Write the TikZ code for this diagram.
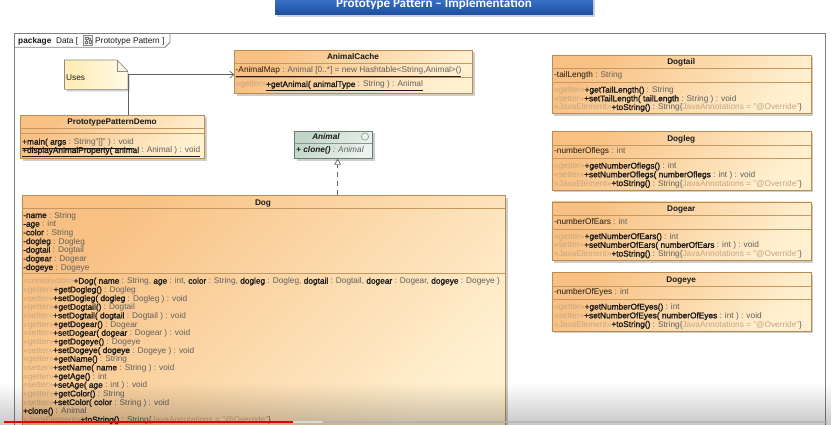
\documentclass[tikz,border=0pt]{standalone}
\usepackage{fontspec}
\setmainfont{Liberation Sans}
\newfontface\fbold{Liberation Sans}[FakeBold=1.6]
\newfontfamily\bannerfont{Carlito}
\usetikzlibrary{arrows.meta,fadings}
\definecolor{clsL}{RGB}{248,192,130}
\definecolor{clsR}{RGB}{255,240,208}
\definecolor{bdc}{RGB}{186,140,82}
\definecolor{divc}{RGB}{196,152,98}
\definecolor{stc}{RGB}{200,165,130}
\definecolor{tyc}{RGB}{95,95,95}
\definecolor{nmc}{RGB}{25,25,25}
\definecolor{shc}{RGB}{205,205,205}
\definecolor{frc}{RGB}{128,128,128}
\definecolor{anL}{RGB}{192,212,199}
\definecolor{anR}{RGB}{236,243,239}
\definecolor{anB}{RGB}{105,125,112}
\definecolor{noteL}{RGB}{255,236,176}
\definecolor{noteR}{RGB}{255,250,230}
\definecolor{bnT}{RGB}{72,134,224}
\definecolor{bnB}{RGB}{28,78,160}
\definecolor{ytred}{RGB}{232,0,0}
\tikzfading[name=fadeup, top color=transparent!100, bottom color=transparent!0]
\newcommand\St[1]{\textcolor{stc}{«#1»}}
\newcommand\Ty[1]{\textcolor{tyc}{#1}}
\newcommand\Nm[1]{{\fbold #1}}
\tikzset{
  cls/.style={draw=bdc, line width=0.7pt, inner sep=0, top color=clsL, bottom color=clsR, shading angle=45},
  divl/.style={draw=divc, line width=0.6pt},
  txt/.style={inner sep=0, anchor=base west, font=\fontsize{8.3}{9}\selectfont, text=nmc},
  ttl/.style={inner sep=0, anchor=base, font=\fontsize{8.2}{9}\selectfont\bfseries, text=nmc},
  conn/.style={draw=black!62, line width=0.7pt},
}
\newcommand\rbox[6]{%
  \fill[shc] (554.2,{#2+2.5}) rectangle (813.2,{#2+61});
  \node[cls, anchor=north west, minimum width=259, minimum height=58.5] (#1) at (551.7,#2) {};
  \node[ttl] (#1-t) at (681.2,{#2+10}) {#3};
  \draw[divl] (551.7,{#2+13.8}) -- (810.7,{#2+13.8});
  \node[txt] (#1-a) at (554,{#2+22.9}) {#4};
  \draw[divl] (551.7,{#2+27.3}) -- (810.7,{#2+27.3});
  \node[txt] (#1-m1) at (554,{#2+37.6}) {#5};
  \node[txt] (#1-m2) at (554,{#2+46.3}) {#6};
  \node[txt] (#1-m3) at (554,{#2+55}) {\St{JavaElement}\Nm{+toString()} \Ty{: String\{}\textcolor{stc}{JavaAnnotations = "@Override"}\Ty{\}}};
}
\begin{document}
\begin{tikzpicture}[x=1pt,y=-1pt]
\useasboundingbox (0,0) rectangle (832,425);
\clip (0,0) rectangle (832,425);
\fill[white] (0,0) rectangle (832,425);

% title banner
\fill[black!35, opacity=0.5] (277,-5) rectangle (595,17.3);
\node[inner sep=0, minimum width=318, minimum height=25, anchor=south west, top color=bnT, bottom color=bnB] (banner) at (275,15) {};
\node[inner sep=0, anchor=base, text=white, font=\bannerfont\bfseries\fontsize{13}{15}\selectfont] (bannertext) at (434,7.5) {Prototype Pattern – Implementation};

% package frame
\draw[frc, line width=0.9pt] (14,440) -- (14,33.3) -- (825,33.3) -- (825,440);
\draw[frc, line width=0.8pt] (14,47.3) -- (165,47.3) -- (170,42.3) -- (170,33.3);
\node[txt] (pkgA) at (18,43.2) {\textbf{package}\ \ Data [};
\draw[fill=black!8, draw=black!45, line width=0.5pt] (83.5,35.5) rectangle (92.5,45);
\draw[black!55, line width=0.4pt] (85,37) rectangle (88,39.3) (89,40.6) rectangle (91.3,43.3) (85.3,41) rectangle (87.6,43.5) (86.5,39.3) -- (86.5,41) (88,38) -- (90,38) -- (90,40.6);
\node[txt] (pkgB) at (95,43.2) {Prototype Pattern ]};

% Uses note
\fill[shc] (66.5,62) -- (117,62) -- (129.5,74) -- (129.5,91.5) -- (66.5,91.5) -- cycle;
\node[inner sep=0, minimum width=63, minimum height=29, anchor=north west] (uses) at (64.5,60) {};
\draw[draw=black!45, line width=0.6pt, left color=noteL, right color=noteR] (uses.north west) -- ([xshift=-11pt]uses.north east) -- ([yshift=-11pt]uses.north east) -- (uses.south east) -- (uses.south west) -- cycle;
\draw[black!45, line width=0.6pt] ([xshift=-11pt]uses.north east) -- ([xshift=-11pt,yshift=-11pt]uses.north east) -- ([yshift=-11pt]uses.north east);
\node[txt] (usestext) at (66,80.3) {Uses};

% AnimalCache
\fill[shc] (236.8,52.5) rectangle (474.5,95.8);
\node[cls, anchor=north west, minimum width=237.7, minimum height=43.3] (cache) at (234.3,50) {};
\node[ttl] (cache-t) at (353,59.8) {AnimalCache};
\draw[divl] (234.3,63.5) -- (472,63.5);
\node[txt] (cache-a) at (235.5,73) {\textcolor{black!80!brown}{\underline{-AnimalMap \Ty{: Animal [0..*] = new Hashtable<String,Animal>()}}}};
\draw[divl] (234.3,77.3) -- (472,77.3);
\node[txt] (cache-m) at (235.5,87) {\St{getter}\underline{\Nm{+getAnimal(} \Nm{animalType} \Ty{: String ) : Animal}}};

% PrototypePatternDemo
\fill[shc] (22.5,117.5) rectangle (206.5,160.8);
\node[cls, anchor=north west, minimum width=184, minimum height=43.3] (demo) at (20,115) {};
\node[ttl] (demo-t) at (112,124.8) {PrototypePatternDemo};
\draw[divl] (20,128.3) -- (204,128.3);
\draw[divl] (20,133.8) -- (204,133.8);
\node[txt] (demo-m1) at (22,144.6) {\underline{\Nm{+main(} \Nm{args} \Ty{: String"[]" ) : void}}};
\node[txt] (demo-m2) at (22,153) {\underline{\Nm{+displayAnimalProperty(} \Nm{animal} \Ty{: Animal ) : void}}};

% Animal
\fill[shc] (296.5,133.5) rectangle (374.5,160.5);
\node[draw=anB, line width=0.7pt, inner sep=0, top color=anL, bottom color=anR, shading angle=45, anchor=north west, minimum width=78, minimum height=27] (animal) at (294,131) {};
\node[ttl] (animal-t) at (326,139.8) {\textit{Animal}};
\draw[draw=anB!80, fill=anR, line width=0.6pt] (365,136.6) circle (3.6);
\draw[draw=anB!80, line width=0.6pt] (294,143) -- (372,143);
\node[txt] (animal-m) at (296,153) {\textit{\textbf{+ clone()} \Ty{: Animal}}};

% Dog
\fill[shc] (24,197.5) rectangle (507.5,445);
\node[cls, anchor=north west, minimum width=483.5, minimum height=245] (dog) at (21.5,195) {};
\node[ttl] (dog-t) at (263,205.6) {Dog};
\draw[divl] (21.5,208.5) -- (505,208.5);
\foreach \t [count=\i from 0] in {
  {\Nm{-name} \Ty{: String}},
  {\Nm{-age} \Ty{: int}},
  {\Nm{-color} \Ty{: String}},
  {\Nm{-dogleg} \Ty{: Dogleg}},
  {\Nm{-dogtail} \Ty{: Dogtail}},
  {\Nm{-dogear} \Ty{: Dogear}},
  {\Nm{-dogeye} \Ty{: Dogeye}}}
  \node[txt] (dog-a\i) at (23,{218+8.67*\i}) {\t};
\draw[divl] (21.5,273) -- (505,273);
\foreach \t [count=\i from 0] in {
  {\St{constructor}\Nm{+Dog(} \Nm{name} \Ty{: String,} \Nm{age} \Ty{: int,} \Nm{color} \Ty{: String,} \Nm{dogleg} \Ty{: Dogleg,} \Nm{dogtail} \Ty{: Dogtail,} \Nm{dogear} \Ty{: Dogear,} \Nm{dogeye} \Ty{: Dogeye )}},
  {\St{getter}\Nm{+getDogleg()} \Ty{: Dogleg}},
  {\St{setter}\Nm{+setDogleg(} \Nm{dogleg} \Ty{: Dogleg ) : void}},
  {\St{getter}\Nm{+getDogtail()} \Ty{: Dogtail}},
  {\St{setter}\Nm{+setDogtail(} \Nm{dogtail} \Ty{: Dogtail ) : void}},
  {\St{getter}\Nm{+getDogear()} \Ty{: Dogear}},
  {\St{setter}\Nm{+setDogear(} \Nm{dogear} \Ty{: Dogear ) : void}},
  {\St{getter}\Nm{+getDogeye()} \Ty{: Dogeye}},
  {\St{setter}\Nm{+setDogeye(} \Nm{dogeye} \Ty{: Dogeye ) : void}},
  {\St{getter}\Nm{+getName()} \Ty{: String}},
  {\St{setter}\Nm{+setName(} \Nm{name} \Ty{: String ) : void}},
  {\St{getter}\Nm{+getAge()} \Ty{: int}},
  {\St{setter}\Nm{+setAge(} \Nm{age} \Ty{: int ) : void}},
  {\St{getter}\Nm{+getColor()} \Ty{: String}},
  {\St{setter}\Nm{+setColor(} \Nm{color} \Ty{: String ) : void}},
  {\Nm{+clone()} \Ty{: Animal}},
  {\St{JavaElement}\Nm{+toString()} \Ty{: String\{}\textcolor{stc}{JavaAnnotations = "@Override"}\Ty{\}}}}
  \node[txt] (dog-m\i) at (23,{283.7+8.67*\i}) {\t};

% right-hand classes
\rbox{dogtail}{55}{Dogtail}{-tailLength \Ty{: String}}{\St{getter}\Nm{+getTailLength()} \Ty{: String}}{\St{setter}\Nm{+setTailLength(} \Nm{tailLength} \Ty{: String ) : void}}
\rbox{dogleg}{131}{Dogleg}{-numberOflegs \Ty{: int}}{\St{getter}\Nm{+getNumberOflegs()} \Ty{: int}}{\St{setter}\Nm{+setNumberOflegs(} \Nm{numberOflegs} \Ty{: int ) : void}}
\rbox{dogear}{201.5}{Dogear}{-numberOfEars \Ty{: int}}{\St{getter}\Nm{+getNumberOfEars()} \Ty{: int}}{\St{setter}\Nm{+setNumberOfEars(} \Nm{numberOfEars} \Ty{: int ) : void}}
\rbox{dogeye}{272}{Dogeye}{-numberOfEyes \Ty{: int}}{\St{getter}\Nm{+getNumberOfEyes()} \Ty{: int}}{\St{setter}\Nm{+setNumberOfEyes(} \Nm{numberOfEyes} \Ty{: int ) : void}}

% connectors
\draw[conn, -{Straight Barb[length=4pt,width=7pt]}] (uses.east |- demo.north) -- (uses.east) -- (cache.west |- uses.east);
\coordinate (anpt) at ([xshift=4.3pt]animal.south);
\draw[conn, dash pattern=on 5pt off 4pt, -{Triangle[open,length=6pt,width=7pt]}] (dog.north -| anpt) -- (anpt);

% video overlay
\fill[black, opacity=0.22, path fading=fadeup] (0,383) rectangle (832,425);
\fill[black!30, opacity=0.8] (5,420.7) rectangle (827,423);
\fill[black!15] (293,420.7) rectangle (323,423);
\fill[ytred] (4,420.5) rectangle (293,423.3);
\end{tikzpicture}
\end{document}
